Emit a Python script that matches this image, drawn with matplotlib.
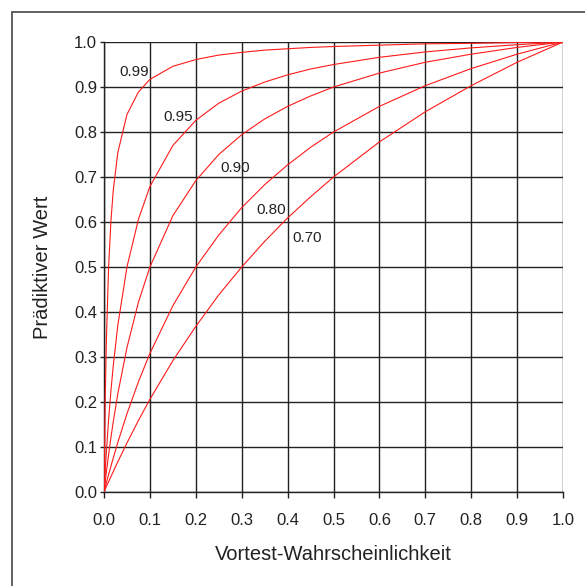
import matplotlib.pyplot as plt
from matplotlib.patches import Rectangle

plt.rcParams['font.family'] = ['Liberation Sans', 'DejaVu Sans']

# Vortest-Wahrscheinlichkeit
pretest = [0.0, 0.0025, 0.005, 0.01, 0.015, 0.02, 0.03, 0.05, 0.075, 0.1, 0.15,
           0.2, 0.25, 0.3, 0.35, 0.4, 0.45, 0.5, 0.6, 0.7, 0.8, 0.9, 1.0]

# prädiktiver Wert je Testgüte (Sensitivität = Spezifität)
ppv_099 = [0.0, 0.199, 0.332, 0.500, 0.601, 0.669, 0.754, 0.839, 0.889, 0.917, 0.946,
           0.961, 0.971, 0.977, 0.982, 0.985, 0.988, 0.990, 0.993, 0.996, 0.997, 0.999, 1.0]
ppv_095 = [0.0, 0.045, 0.087, 0.161, 0.224, 0.279, 0.370, 0.500, 0.606, 0.679, 0.770,
           0.826, 0.864, 0.891, 0.911, 0.927, 0.940, 0.950, 0.966, 0.978, 0.987, 0.994, 1.0]
ppv_090 = [0.0, 0.022, 0.043, 0.083, 0.121, 0.155, 0.218, 0.321, 0.422, 0.500, 0.614,
           0.692, 0.750, 0.794, 0.829, 0.857, 0.880, 0.900, 0.931, 0.955, 0.973, 0.988, 1.0]
ppv_080 = [0.0, 0.010, 0.020, 0.039, 0.057, 0.075, 0.110, 0.174, 0.245, 0.308, 0.414,
           0.500, 0.571, 0.632, 0.683, 0.727, 0.766, 0.800, 0.857, 0.903, 0.941, 0.973, 1.0]
ppv_070 = [0.0, 0.006, 0.012, 0.023, 0.034, 0.045, 0.067, 0.109, 0.159, 0.206, 0.292,
           0.368, 0.438, 0.500, 0.557, 0.609, 0.656, 0.700, 0.778, 0.845, 0.903, 0.955, 1.0]

curves = [ppv_099, ppv_095, ppv_090, ppv_080, ppv_070]
curve_labels = ['0.99', '0.95', '0.90', '0.80', '0.70']
label_pos = [(0.065, 0.933), (0.161, 0.833), (0.285, 0.72), (0.364, 0.627), (0.442, 0.564)]

ticks = [i / 10 for i in range(11)]

fig = plt.figure(figsize=(5.85, 5.86), dpi=100)
ax = fig.add_axes([0.1778, 0.1604, 0.7846, 0.7679])

for ys in curves:
    ax.plot(pretest, ys, color='#ff1a1a', lw=0.8, zorder=3)

for txt, (x, y) in zip(curve_labels, label_pos):
    ax.text(x, y, txt, ha='center', va='center', fontsize=11, color='#222222', zorder=4)

ax.set_xlim(0, 1)
ax.set_ylim(0, 1)
ax.set_xticks(ticks)
ax.set_yticks(ticks)
ax.set_xticklabels([f'{t:.1f}' for t in ticks], fontsize=12, color='#222222')
ax.set_yticklabels([f'{t:.1f}' for t in ticks], fontsize=12, color='#222222')
ax.tick_params(axis='x', direction='out', length=4, width=1, color='#222222', pad=11)
ax.tick_params(axis='y', direction='out', length=3, width=1, color='#222222', pad=2)

ax.grid(True, color='#222222', lw=1.0)
ax.set_axisbelow(True)
for side in ['top', 'right']:
    ax.spines[side].set_visible(False)
for side in ['left', 'bottom']:
    ax.spines[side].set_color('#222222')
    ax.spines[side].set_linewidth(1.0)

ax.set_xlabel('Vortest-Wahrscheinlichkeit', fontsize=14.5, color='#222222', labelpad=12)
ax.set_ylabel('Prädiktiver Wert', fontsize=14.5, color='#222222', labelpad=16)

# Rahmen um die Grafik
fig.patches.append(Rectangle((12 / 585, -0.1), 1.2, 1.1 - 12 / 586,
                             transform=fig.transFigure, fill=False,
                             edgecolor='#555555', lw=1.3))

plt.savefig('out.png', dpi=100)
